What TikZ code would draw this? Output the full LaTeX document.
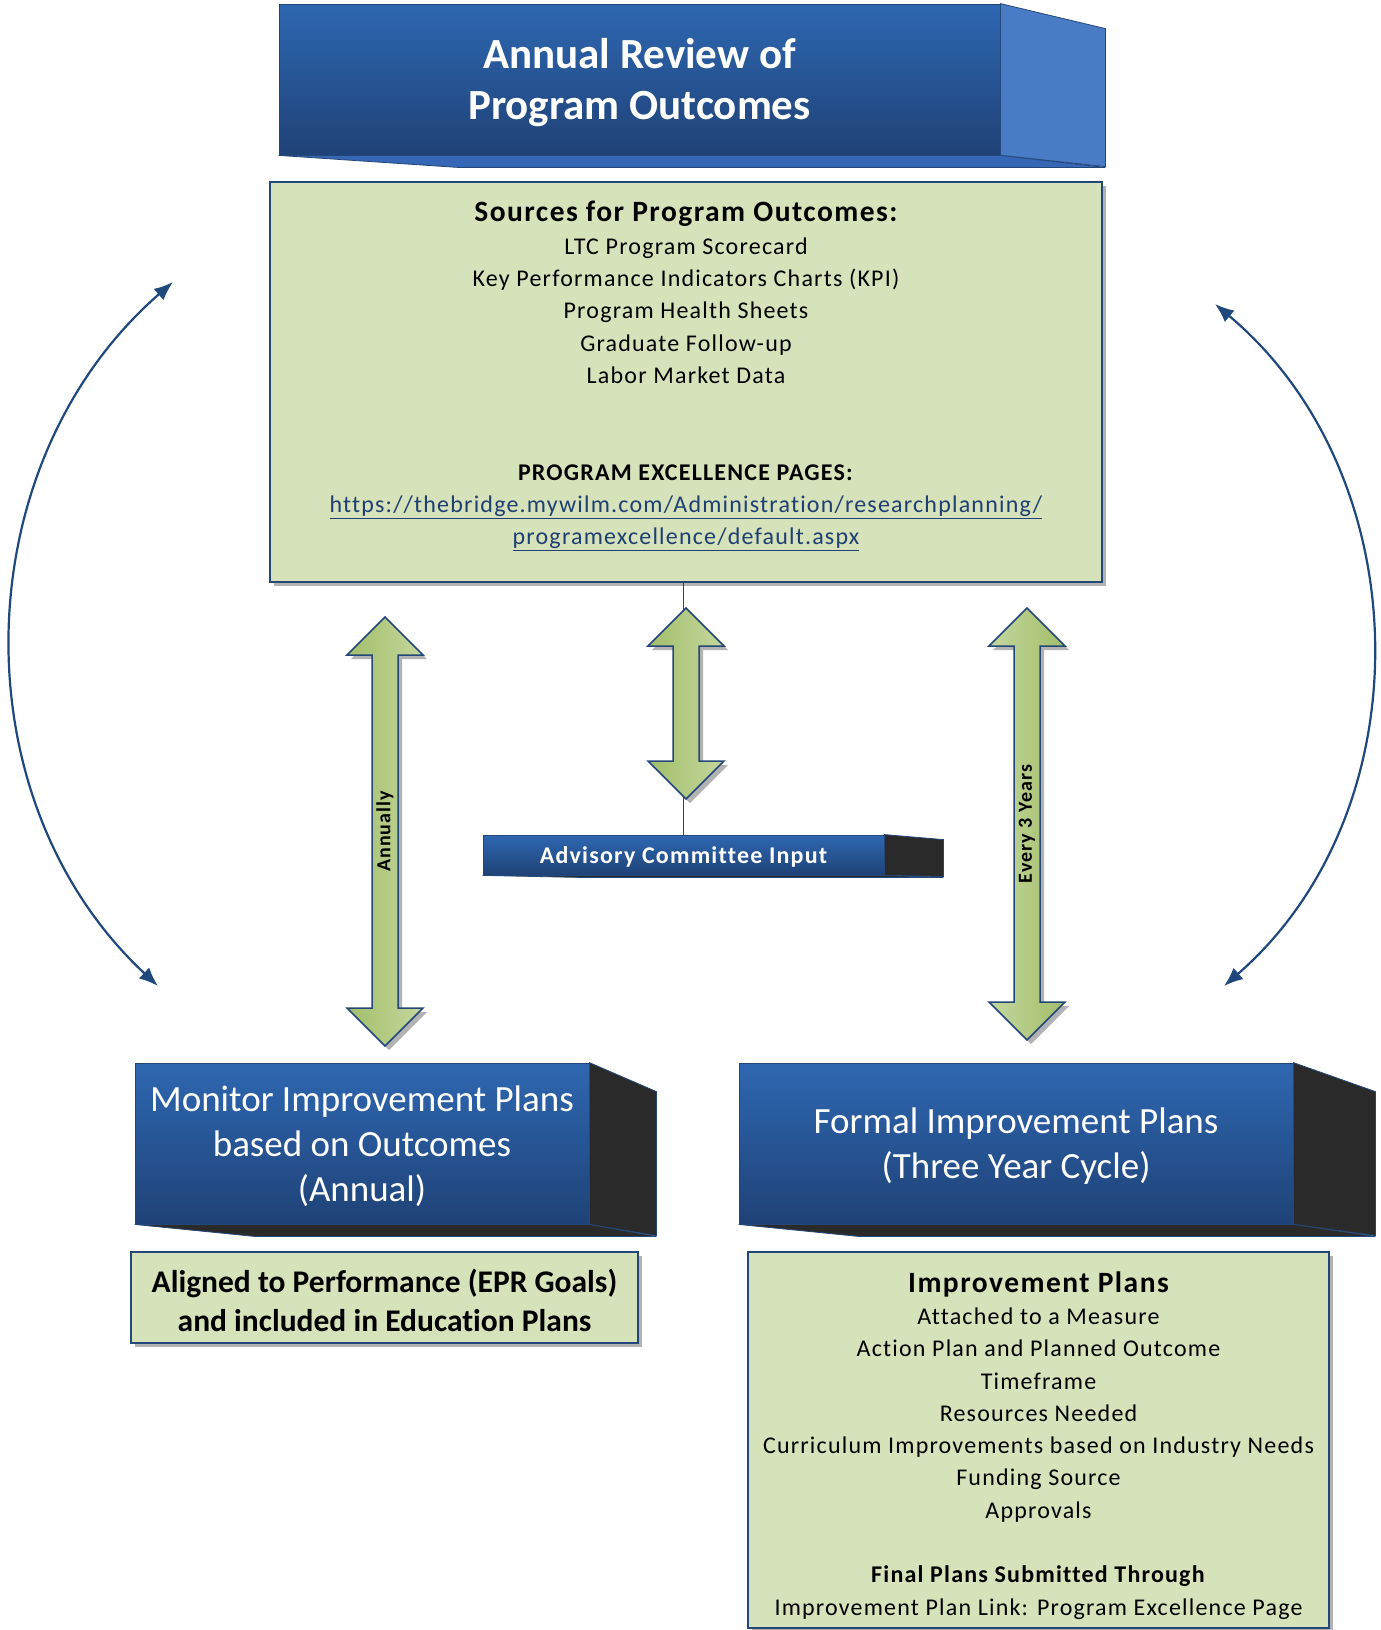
\documentclass[tikz,border=0pt]{standalone}
\usepackage{fontspec}
\setmainfont[Ligatures=NoCommon]{Carlito}
\newfontfamily\spacedfont[LetterSpace=5,Ligatures=NoCommon]{Carlito}
\usepackage{tikz}
\usetikzlibrary{calc,arrows.meta,positioning,shadows}

\definecolor{navyline}{HTML}{24477A}
\definecolor{bluetop}{HTML}{2E67B1}
\definecolor{bluebot}{HTML}{1F4277}
\definecolor{titleside}{HTML}{4A7BC6}
\definecolor{titlebase}{HTML}{3667B6}
\definecolor{darkside}{HTML}{2A2A2A}
\definecolor{paleolive}{HTML}{D5E2BA}
\definecolor{arrowlight}{HTML}{C4D79E}
\definecolor{arrowdark}{HTML}{A2BE6A}
\definecolor{arcblue}{HTML}{1F497D}
\definecolor{linkblue}{HTML}{1F3F73}

\tikzset{
    frontbox/.style={
    rectangle,draw=navyline,line width=0.8pt,top color=bluetop,bottom color=bluebot,
    inner sep=0pt
    },
    fronttext/.style={
    text=white,align=center,inner sep=0pt
    },
    darkface/.style={
    fill=darkside,draw=navyline,line width=0.8pt
    },
    blueface/.style={
    fill=titleside,draw=navyline,line width=0.8pt
    },
    greenbox/.style={
    rectangle,draw=navyline,line width=1.5pt,fill=paleolive,align=center,
    drop shadow={shadow xshift=4pt,shadow yshift=-4pt,opacity=0.3,fill=black}
    },
    boxtext/.style={
    align=center,inner sep=0pt,font=\spacedfont\fontsize{24}{32.3}\selectfont
    },
    greenarrow/.style={
    draw=navyline,line width=1.5pt,left color=arrowdark,right color=arrowlight,
    drop shadow={shadow xshift=4pt,shadow yshift=-4pt,opacity=0.3,fill=black}
    },
    greenarrowr/.style={
    greenarrow,left color=arrowlight,right color=arrowdark
    },
    arrowlabel/.style={
    rotate=90,inner sep=0pt,font=\spacedfont\fontsize{20}{24}\selectfont\bfseries
    },
    cycarrow/.style={
    draw=arcblue,line width=2.2pt,
    arrows={Latex[length=19pt,width=15pt]-Latex[length=19pt,width=15pt]}
    },
}

% double headed block arrow between two coordinates (top, bottom)
\newcommand{\blockarrow}[3][greenarrow]{%
  \path[#1] (#2) -- ++(-38,-38) -- ++(25,0) -- ($(#3)+(-13,38)$) -- ++(-25,0) -- (#3)
    -- ++(38,38) -- ++(-25,0) -- ($(#2)+(13,-38)$) -- ++(25,0) -- cycle;
}

\begin{document}
\begin{tikzpicture}[x=1pt,y=1pt]
  \path[use as bounding box,fill=white] (0,0) rectangle (1381,-1630);

  % title block
  \node[frontbox,minimum width=721pt,minimum height=151pt] (title) at (639.5,-79.5) {};
  \node[fronttext,font=\fontsize{43}{51}\selectfont\bfseries]
    (titletext) at ([yshift=-3pt]title.center) {Annual Review of\\Program Outcomes};
  \filldraw[blueface] (title.north east) -- ++(105,-25) -- ++(0,-138) -- (title.south east) -- cycle;
  \filldraw[blueface,fill=titlebase] (title.south west) -- (title.south east)
    -- ($(title.south east)+(105,-12)$) -- ($(title.south west)+(179,-12)$) -- cycle;

  % sources
  \node[greenbox,minimum width=832pt,minimum height=400pt] (src) at (686,-382) {};
  \node[boxtext,below=20pt of src.north] (srctext) {%
    {\fontsize{29.5}{32.3}\selectfont\bfseries Sources for Program Outcomes:}\\
    LTC Program Scorecard\\
    Key Performance Indicators Charts (KPI)\\
    Program Health Sheets\\
    Graduate Follow-up\\
    Labor Market Data\\[64.6pt]
    \textbf{PROGRAM EXCELLENCE PAGES:}\\
    \textcolor{linkblue}{\underline{https://thebridge.mywilm.com/Administration/researchplanning/}}\\
    \textcolor{linkblue}{\underline{programexcellence/default.aspx}}};

  % advisory
  \node[frontbox,minimum width=401pt,minimum height=40pt] (adv) at (683.5,-855) {};
  \node[fronttext,font=\spacedfont\fontsize{24}{28}\selectfont\bfseries]
    (advtext) at ([yshift=-2pt]adv.center) {Advisory Committee Input};
  \filldraw[darkface] (adv.north east) -- ++(59,-5) -- ++(0,-37) -- (adv.south east) -- cycle;
  \filldraw[darkface] (adv.south west) -- (adv.south east)
    -- ($(adv.south east)+(59,-2)$) -- ($(adv.south west)+(97,-2)$) -- cycle;
  \draw[navyline,line width=1.5pt] (adv.north |- src.south) -- (adv.north);

  % monitor
  \node[frontbox,minimum width=454pt,minimum height=161pt] (mon) at (362,-1143.5) {};
  \node[fronttext,font=\fontsize{37}{45}\selectfont]
    (montext) at ([yshift=-3pt]mon.center) {Monitor Improvement Plans\\based on Outcomes\\(Annual)};
  \filldraw[darkface] (mon.north east) -- ++(67,-29) -- ++(0,-144) -- (mon.south east) -- cycle;
  \filldraw[darkface] (mon.south west) -- (mon.south east)
    -- ($(mon.south east)+(67,-12)$) -- ($(mon.south west)+(120,-12)$) -- cycle;

  % formal
  \node[frontbox,minimum width=554pt,minimum height=161pt] (frm) at (1016,-1143.5) {};
  \node[fronttext,font=\fontsize{37}{45}\selectfont]
    (frmtext) at ([yshift=-3pt]frm.center) {Formal Improvement Plans\\(Three Year Cycle)};
  \filldraw[darkface] (frm.north east) -- ++(82,-29) -- ++(0,-144) -- (frm.south east) -- cycle;
  \filldraw[darkface] (frm.south west) -- (frm.south east)
    -- ($(frm.south east)+(82,-12)$) -- ($(frm.south west)+(120,-12)$) -- cycle;

  \node[greenbox,minimum width=507pt,minimum height=91pt] (algn) at (384.5,-1297.5) {};
  \node[boxtext,font=\fontsize{31.5}{38.5}\selectfont\bfseries]
    (algntext) at ([yshift=-3pt]algn.center) {Aligned to Performance (EPR Goals)\\and included in Education Plans};

  \node[greenbox,minimum width=581pt,minimum height=376pt] (impr) at (1038.5,-1440) {};
  \node[boxtext,below=20pt of impr.north] (imprtext) {%
    {\fontsize{29.5}{32.3}\selectfont\bfseries Improvement Plans}\\
    Attached to a Measure\\
    Action Plan and Planned Outcome\\
    Timeframe\\
    Resources Needed\\
    Curriculum Improvements based on Industry Needs\\
    Funding Source\\
    Approvals\\[32.2pt]
    \textbf{Final Plans Submitted Through}\\
    Improvement Plan Link: Program Excellence Page};

  % block arrows
  \coordinate (annT) at (385,-617);
  \coordinate (annB) at (385,-1046);
  \coordinate (advT) at (686,-608);
  \coordinate (advB) at (686,-799);
  \coordinate (cycT) at (1027,-608);
  \coordinate (cycB) at (1027,-1040);
  \blockarrow{annT}{annB}
  \blockarrow{advT}{advB}
  \blockarrow[greenarrowr]{cycT}{cycB}
  \node[arrowlabel] (annlbl) at ($(annT)!0.5!(annB)$) {Annually};
  \node[arrowlabel] (cyclbl) at ($(cycT)!0.5!(cycB)$) {Every 3 Years};

  % cycle arcs
  \coordinate (lcT) at (173,-282);
  \coordinate (lcB) at (158,-986);
  \coordinate (rcT) at (1215,-304);
  \coordinate (rcB) at (1224,-986);
  \draw[cycarrow] (lcT) to[out=221,in=137] (lcB);
  \draw[cycarrow] (rcT) to[out=-40,in=41] (rcB);
\end{tikzpicture}
\end{document}
